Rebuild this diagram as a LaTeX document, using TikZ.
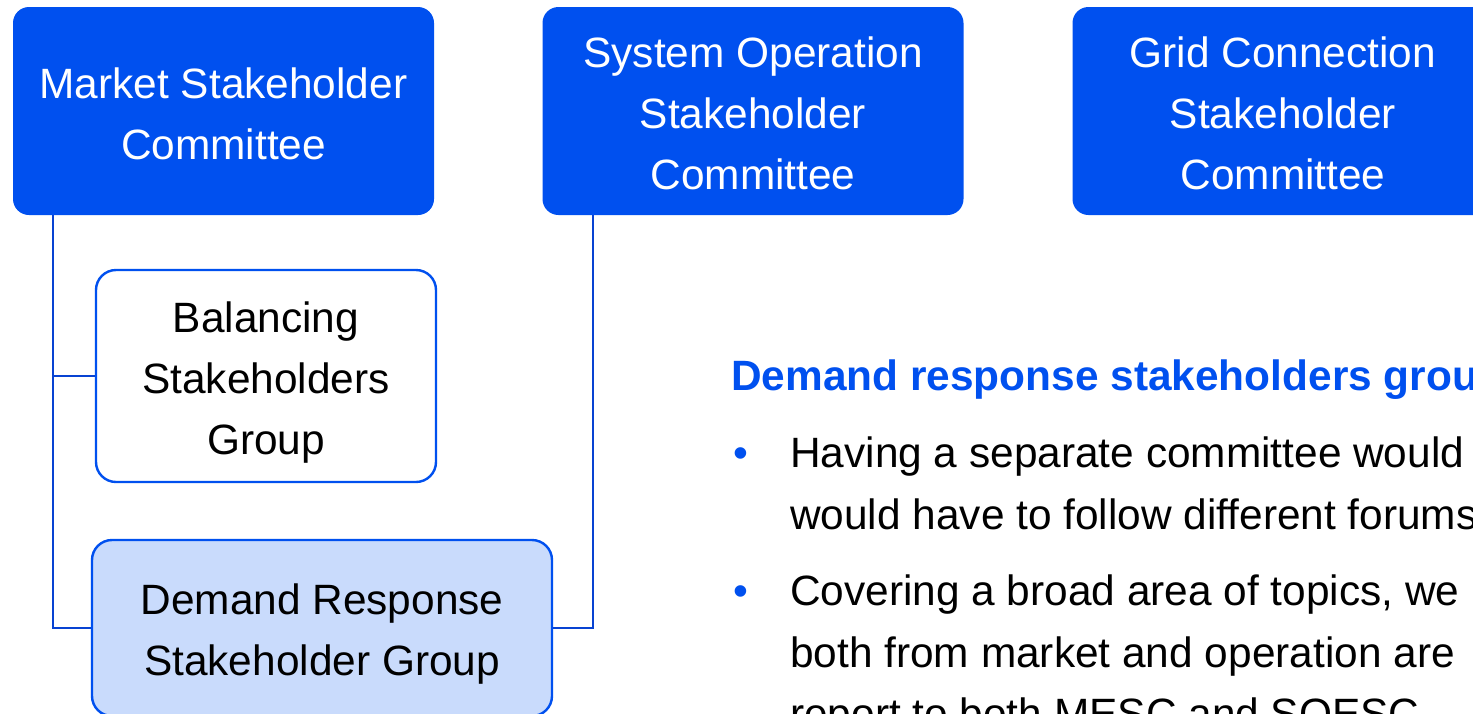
\documentclass[tikz,border=0pt]{standalone}
\usepackage{fontspec}
\setmainfont{Liberation Sans}
\definecolor{mainblue}{HTML}{0050EF}
\definecolor{linkblue}{HTML}{0843D2}
\definecolor{lightblue}{HTML}{C9DBFC}
\begin{document}
\begin{tikzpicture}[x=1pt,y=-1pt,
  txt/.style={font=\fontsize{42.4}{61}\selectfont},
  bigbox/.style={rounded corners=16pt,fill=mainblue,
     minimum width=421pt,minimum height=208pt,inner sep=0pt},
  bigtxt/.style={txt,text=white,align=center,inner sep=0pt},
  subbox/.style={rounded corners=20pt,draw=mainblue,line width=2.4pt,inner sep=0pt},
  subtxt/.style={txt,align=center,inner sep=0pt},
  link/.style={draw=linkblue,line width=2pt},
  bul/.style={txt,anchor=base west,inner sep=0pt},
  dot/.style={txt,anchor=base west,inner sep=0pt,text=mainblue}]
\useasboundingbox (0,0) rectangle (1473,713);
\clip (0,0) rectangle (1473,713);
\fill[white] (0,0) rectangle (1473,713);
% top committees
\node[bigbox] (mkt) at (223.5,111) {};
\node[bigtxt] (mktt) at ([yshift=-3pt]mkt.center) {Market Stakeholder\\Committee};
\node[bigbox] (sys) at (753,111) {};
\node[bigtxt] (syst) at ([yshift=-2pt]sys.center) {System Operation\\Stakeholder\\Committee};
\node[bigbox] (grid) at (1283,111) {};
\node[bigtxt] (gridt) at ([yshift=-2pt]grid.center) {Grid Connection\\Stakeholder\\Committee};
% groups
\node[subbox,fill=white,minimum width=340pt,minimum height=212pt] (bal) at (266,376) {};
\node[subtxt] (balt) at ([yshift=-7pt]bal.center) {Balancing\\Stakeholders\\Group};
\node[subbox,fill=lightblue,minimum width=460pt,minimum height=176pt] (dr) at (322,628) {};
\node[subtxt] (drt) at ([yshift=-6pt]dr.center) {Demand Response\\Stakeholder Group};
% connectors
\coordinate (jl) at ([xshift=40pt]mkt.south west);
\coordinate (jr) at ([xshift=51pt]sys.south west);
\draw[link] (jl) |- (dr.west);
\draw[link] (bal.west) -- (bal.west -| jl);
\draw[link] (jr) |- (dr.east);
% text block
\node[txt,anchor=base west,inner sep=0pt,text=mainblue,font=\fontsize{42.4}{61}\selectfont\bfseries] (head) at (731,390)
  {Demand response stakeholders groups};
\node[dot] (b1) at (733,467) {•};
\node[bul] (l1) at (790,467) {Having a separate committee would};
\node[bul] (l2) at (790,529) {would have to follow different forums};
\node[dot] (b2) at (733,605) {•};
\node[bul] (l3) at (790,605) {Covering a broad area of topics, we};
\node[bul] (l4) at (790,667) {both from market and operation are};
\node[bul] (l5) at (790,728) {report to both MESC and SOESC};
\end{tikzpicture}
\end{document}
